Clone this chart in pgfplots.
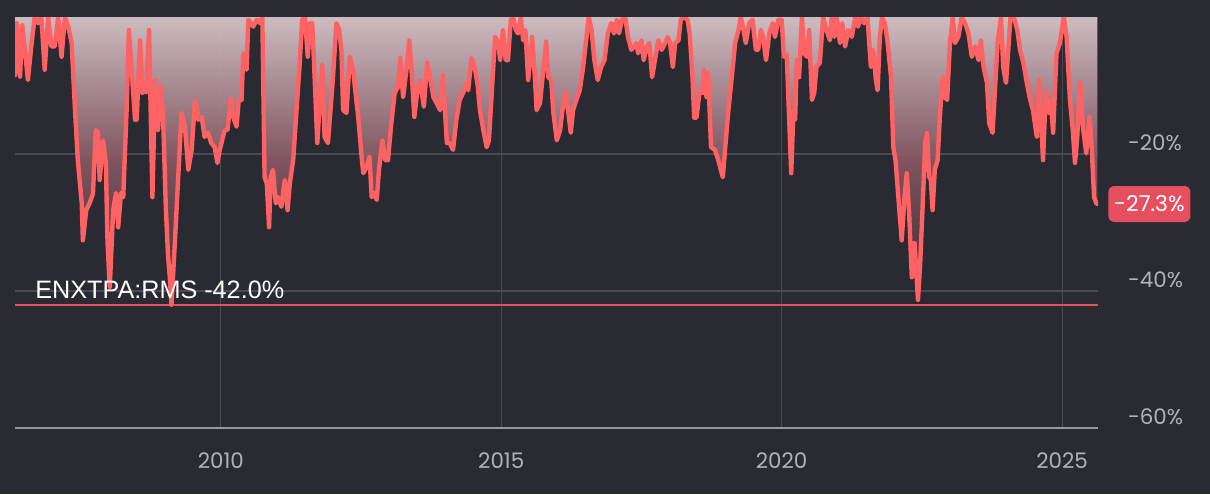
\documentclass[border=0pt]{standalone}
\usepackage{fontspec}
\setmainfont{Poppins}
\newfontfamily\arialfont{Liberation Sans}
\usepackage{pgfplots}
\usepackage{pgfplotstable}
\pgfplotsset{compat=1.18}
\definecolor{bgc}{RGB}{42,42,50}
\definecolor{linec}{RGB}{255,98,98}
\definecolor{boxred}{RGB}{230,80,94}
\definecolor{tickgrey}{RGB}{178,178,186}
\definecolor{gridgrey}{RGB}{74,74,84}
\definecolor{axgrey}{RGB}{150,150,160}
\definecolor{shtop}{RGB}{217,199,203}
\definecolor{shmid}{RGB}{135,88,99}
\definecolor{shbot}{RGB}{48,42,50}

\pgfplotstableread{
x y
2006.33 -8.5
2006.36 -0.9
2006.42 -8.7
2006.46 -1.2
2006.53 -6.7
2006.56 -9.2
2006.62 -4.3
2006.68 0
2006.74 -0.9
2006.80 0
2006.86 -7.7
2006.92 0
2006.98 -4.3
2007.04 -4.3
2007.10 0
2007.16 -5.8
2007.22 0
2007.28 -1.4
2007.34 -3.8
2007.40 -13.6
2007.45 -20.9
2007.52 -27.2
2007.54 -32.6
2007.60 -28.2
2007.66 -27.2
2007.72 -25.8
2007.77 -16.5
2007.81 -16.9
2007.84 -23.8
2007.90 -18.0
2007.95 -21.3
2007.98 -33.0
2008.02 -39.4
2008.08 -28.2
2008.13 -25.7
2008.17 -30.7
2008.22 -25.7
2008.26 -26.3
2008.32 -13.6
2008.36 -1.9
2008.41 -7.7
2008.47 -15.0
2008.50 -15.0
2008.56 -3.4
2008.60 -11.1
2008.64 -10.7
2008.67 -11.0
2008.72 -1.9
2008.78 -26.3
2008.83 -9.2
2008.88 -16.5
2008.93 -10.2
2008.97 -14.6
2009.02 -28.0
2009.06 -35.0
2009.09 -38.0
2009.12 -42.0
2009.18 -33.0
2009.24 -23.4
2009.30 -14.0
2009.36 -16.0
2009.42 -22.3
2009.48 -19.4
2009.54 -12.1
2009.60 -15.0
2009.66 -14.6
2009.71 -17.5
2009.77 -16.9
2009.83 -18.4
2009.89 -19.0
2009.94 -21.3
2009.98 -19.4
2010.04 -17.5
2010.07 -16.5
2010.12 -16.5
2010.18 -11.8
2010.22 -14.6
2010.28 -16.0
2010.32 -12.1
2010.37 -12.1
2010.40 -5.3
2010.46 -7.7
2010.49 -0.4
2010.54 -0.9
2010.58 -1.4
2010.64 -0.4
2010.70 -0.9
2010.74 0
2010.78 -23.4
2010.82 -24.3
2010.86 -30.7
2010.89 -23.4
2010.93 -22.3
2010.98 -27.2
2011.02 -26.3
2011.08 -27.7
2011.14 -23.8
2011.19 -28.2
2011.23 -24.3
2011.29 -20.9
2011.35 -13.6
2011.41 -6.3
2011.45 -0.4
2011.50 0
2011.55 -5.8
2011.59 -0.9
2011.63 -0.9
2011.66 -6.3
2011.72 -18.4
2011.77 -11.7
2011.81 -7.0
2011.85 -17.5
2011.91 -18.4
2012.00 -8.8
2012.06 -0.9
2012.11 -1.9
2012.15 -4.8
2012.18 -13.6
2012.24 -14.0
2012.30 -5.8
2012.36 -7.7
2012.39 -10.2
2012.45 -14.6
2012.51 -20.4
2012.54 -22.8
2012.60 -21.9
2012.65 -20.4
2012.69 -26.3
2012.73 -25.7
2012.78 -26.7
2012.82 -22.3
2012.88 -18.0
2012.93 -20.9
2012.98 -20.9
2013.04 -15.5
2013.10 -11.1
2013.16 -10.2
2013.20 -6.0
2013.25 -11.7
2013.31 -7.7
2013.36 -3.4
2013.40 -7.7
2013.45 -14.6
2013.50 -11.1
2013.55 -9.2
2013.62 -13.1
2013.68 -6.6
2013.73 -8.8
2013.79 -11.7
2013.85 -12.6
2013.91 -13.6
2013.96 -8.5
2014.03 -18.4
2014.08 -18.4
2014.14 -19.4
2014.20 -15.0
2014.26 -12.1
2014.32 -11.1
2014.38 -9.6
2014.41 -10.7
2014.47 -6.0
2014.53 -7.5
2014.58 -10.0
2014.62 -13.6
2014.68 -16.5
2014.74 -19.0
2014.78 -18.0
2014.83 -11.1
2014.89 -2.9
2014.95 -3.8
2014.98 -6.3
2015.03 -1.9
2015.08 -6.3
2015.12 -6.3
2015.17 -0.4
2015.21 0
2015.26 -1.9
2015.30 -2.4
2015.35 0
2015.39 -3.4
2015.43 -1.9
2015.48 -9.2
2015.55 -2.9
2015.60 -8.8
2015.63 -13.6
2015.69 -12.6
2015.75 -7.7
2015.80 -3.6
2015.84 -8.8
2015.89 -9.2
2015.93 -14.0
2015.99 -18.0
2016.05 -16.5
2016.09 -13.6
2016.15 -10.9
2016.19 -13.6
2016.24 -16.9
2016.28 -13.6
2016.34 -12.1
2016.40 -10.7
2016.46 -7.3
2016.52 -2.9
2016.56 0
2016.61 -1.9
2016.66 -6.3
2016.72 -9.2
2016.78 -7.3
2016.84 -6.3
2016.90 -2.4
2016.96 -0.9
2017.01 -2.4
2017.06 -0.4
2017.10 -2.4
2017.15 -0.4
2017.21 0
2017.26 -2.9
2017.32 -4.8
2017.37 -4.3
2017.41 -3.8
2017.44 -5.3
2017.50 -3.4
2017.54 -6.3
2017.59 -4.4
2017.64 -3.8
2017.69 -8.8
2017.74 -6.3
2017.80 -3.4
2017.86 -4.8
2017.92 -3.8
2017.97 -2.9
2018.01 -3.8
2018.06 -7.3
2018.10 -3.8
2018.16 -3.4
2018.20 -0.4
2018.26 0
2018.32 -0.4
2018.36 -2.4
2018.41 -8.8
2018.44 -14.7
2018.48 -14.7
2018.54 -10.7
2018.59 -11.1
2018.61 -7.7
2018.66 -11.7
2018.69 -8.2
2018.74 -19.0
2018.81 -19.4
2018.87 -20.9
2018.95 -23.4
2018.99 -19.4
2019.05 -13.6
2019.11 -8.8
2019.17 -3.8
2019.23 -1.9
2019.27 0
2019.32 -1.9
2019.36 -3.8
2019.42 -0.9
2019.48 -0.4
2019.54 -4.8
2019.58 -4.8
2019.63 -1.9
2019.67 -2.9
2019.72 -6.3
2019.78 -2.4
2019.84 -0.9
2019.88 -2.9
2019.94 -0.4
2020.00 -0.4
2020.04 -5.8
2020.09 -5.5
2020.17 -22.8
2020.21 -13.6
2020.24 -15.0
2020.27 -6.3
2020.31 -8.8
2020.36 0
2020.40 -5.3
2020.45 -5.8
2020.49 -1.9
2020.54 -12.1
2020.58 -11.1
2020.62 -7.3
2020.68 -6.7
2020.74 0
2020.80 -1.9
2020.86 -3.4
2020.89 0
2020.94 -2.9
2020.98 0
2021.04 -3.8
2021.08 -0.9
2021.13 -4.3
2021.19 -1.9
2021.25 -2.9
2021.31 0
2021.36 -1.4
2021.41 0
2021.47 -0.9
2021.53 0
2021.59 -7.3
2021.63 -4.8
2021.68 -9.2
2021.71 -10.7
2021.75 -2.9
2021.79 0
2021.84 -0.9
2021.89 -3.8
2021.95 -8.8
2021.99 -19.0
2022.03 -20.9
2022.08 -26.3
2022.14 -32.6
2022.19 -26.3
2022.23 -22.8
2022.27 -28.2
2022.32 -38.0
2022.37 -33.0
2022.43 -41.3
2022.47 -35.9
2022.51 -28.2
2022.56 -18.4
2022.59 -16.9
2022.63 -23.4
2022.66 -23.8
2022.69 -28.2
2022.73 -22.3
2022.78 -20.9
2022.82 -14.6
2022.87 -8.8
2022.91 -11.7
2022.95 -12.1
2023.00 -3.8
2023.05 0
2023.09 -3.8
2023.15 -2.9
2023.21 0
2023.27 -0.9
2023.33 -2.4
2023.39 -5.8
2023.45 -4.3
2023.51 -6.3
2023.55 -3.4
2023.60 -7.3
2023.66 -9.6
2023.70 -15.5
2023.76 -16.9
2023.80 -11.1
2023.85 -3.8
2023.91 0
2023.95 -7.3
2024.00 -9.6
2024.04 -4.8
2024.08 0
2024.14 0
2024.20 -1.9
2024.25 -4.8
2024.31 -6.7
2024.37 -9.6
2024.42 -11.7
2024.48 -13.6
2024.55 -17.5
2024.59 -9.2
2024.66 -20.9
2024.71 -10.7
2024.76 -14.0
2024.80 -12.4
2024.84 -16.9
2024.90 -5.3
2024.96 -3.8
2025.03 0
2025.08 -2.9
2025.14 -12.1
2025.19 -16.5
2025.23 -21.3
2025.27 -17.5
2025.32 -9.5
2025.37 -16.0
2025.43 -19.9
2025.49 -14.6
2025.53 -19.4
2025.57 -26.3
2025.61 -27.2
2025.63 -27.3
}\drawdown

\begin{document}
\begin{tikzpicture}
\fill[bgc] (-7.5pt,-33pt) rectangle (597.5pt,214pt);
\begin{axis}[
  at={(0,0)}, anchor=south west,
  scale only axis,
  width=541.5pt, height=205.5pt,
  xmin=2006.33, xmax=2025.64,
  ymin=-60, ymax=0,
  axis line style={draw=none},
  major tick length=0pt,
  xtick={2010,2015,2020,2025},
  xticklabels={2010,2015,2020,2025},
  ytick={-60,-40,-20},
  yticklabels={-60\%,-40\%,-20\%},
  yticklabel pos=right,
  grid=major,
  major grid style={color=gridgrey, line width=0.6pt},
  ticklabel style={font=\fontsize{10.7}{12}\selectfont, text=tickgrey},
  xticklabel style={yshift=-9pt},
  yticklabel style={anchor=west, xshift=11.5pt, yshift=5.5pt},
  clip=true,
]
\addplot[draw=none, fill opacity=0.93, top color=shtop, bottom color=shbot, middle color=shmid] table[x=x,y=y] {\drawdown} \closedcycle;
\addplot[color=boxred, line width=1pt] coordinates {(2006.33,-42) (2025.64,-42)};
\addplot[color=axgrey, line width=1.1pt] coordinates {(2006.33,-60) (2025.64,-60)};
\addplot[color=linec, line width=2.2pt, line join=round, line cap=round] table[x=x,y=y] {\drawdown};
\node[anchor=base west, inner sep=0pt, text=white, font=\arialfont\fontsize{12.6}{14}\selectfont] at (axis cs:2006.33,-42) [xshift=10pt, yshift=3.3pt] {ENXTPA:RMS -42.0\%};
\coordinate (lastval) at (axis cs:2025.64,-27.3);
\end{axis}
\node[anchor=west, fill=boxred, rounded corners=3pt, text=white, minimum width=41pt, minimum height=18pt, inner sep=0pt, font=\fontsize{10.9}{13}\selectfont] at ([xshift=5pt]lastval) {-27.3\%};
\pgfresetboundingbox
\useasboundingbox (-7.5pt,-33pt) rectangle (597.5pt,214pt);
\end{tikzpicture}
\end{document}
